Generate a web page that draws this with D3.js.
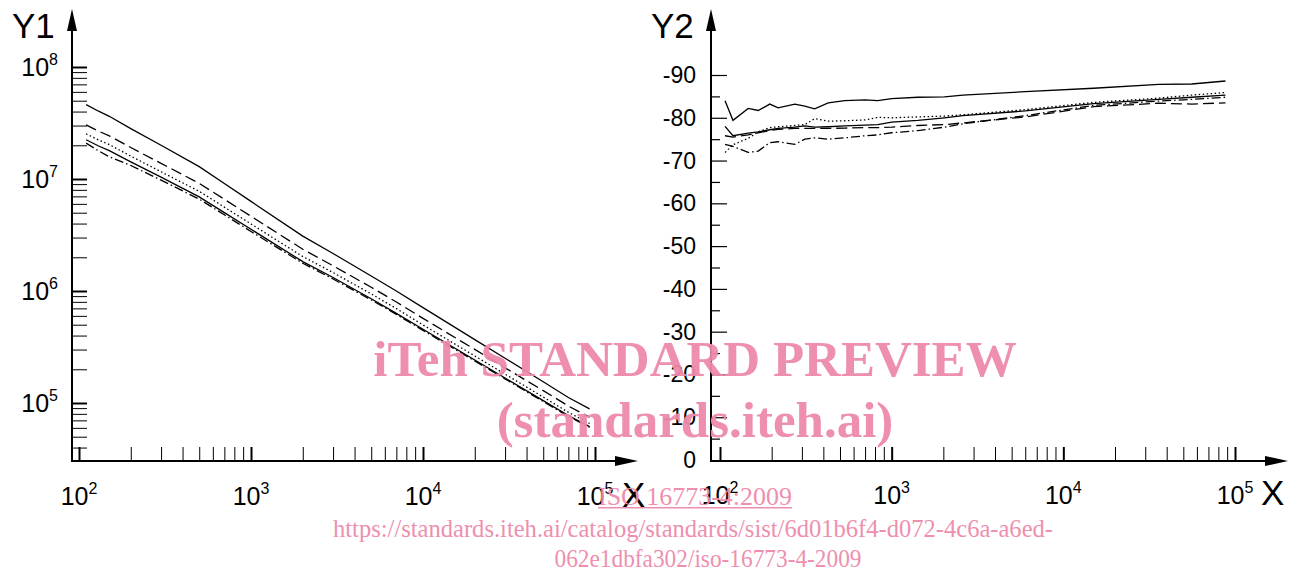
<!DOCTYPE html>
<html>
<head>
<meta charset="utf-8">
<script src="https://cdn.jsdelivr.net/npm/d3@7"></script>
<style>
  body { margin: 0; background: #fff; }
  svg { display: block; }
  text { font-family: "Liberation Sans", Arial, sans-serif; fill: #000; }
  .wm { font-family: "Liberation Serif", "Times New Roman", serif; fill: #ee8aab; }
</style>
</head>
<body>
<svg id="chart" width="1292" height="576"></svg>
<script>
// left panel: Y1 vs X (log-log)
var freqL = [110, 130, 150, 200, 300, 500, 700, 1000, 2000, 3000, 5000, 7000, 10000, 20000, 30000, 50000, 70000, 93000];
var y1Solid   = [4.62e7, 4.03e7, 3.63e7, 2.82e7, 2.00e7, 1.29e7, 9.12e6, 6.31e6, 3.09e6, 2.16e6, 1.36e6, 1.00e6, 7.10e5, 3.68e5, 2.51e5, 1.55e5, 1.12e5, 8.85e4];
var y1Dash    = [3.04e7, 2.67e7, 2.43e7, 1.91e7, 1.38e7, 9.14e6, 6.59e6, 4.65e6, 2.36e6, 1.68e6, 1.08e6, 7.98e5, 5.70e5, 3.01e5, 2.06e5, 1.29e5, 9.40e4, 7.46e4];
var y1Dot     = [2.53e7, 2.23e7, 2.03e7, 1.60e7, 1.16e7, 7.76e6, 5.61e6, 3.97e6, 2.03e6, 1.46e6, 9.42e5, 6.97e5, 4.98e5, 2.63e5, 1.81e5, 1.13e5, 8.26e4, 6.56e4];
var y1Solid2  = [2.24e7, 1.97e7, 1.79e7, 1.42e7, 1.04e7, 6.92e6, 5.01e6, 3.56e6, 1.83e6, 1.32e6, 8.53e5, 6.32e5, 4.55e5, 2.42e5, 1.67e5, 1.05e5, 7.73e4, 6.15e4];
var y1DashDot = [2.09e7, 1.78e7, 1.58e7, 1.32e7, 9.77e6, 6.61e6, 4.79e6, 3.40e6, 1.77e6, 1.28e6, 8.32e5, 6.18e5, 4.45e5, 2.37e5, 1.64e5, 1.03e5, 7.60e4, 6.05e4];

// right panel: Y2 vs X
var freqR = [107, 119, 146, 167, 195, 218, 273, 312, 356, 427, 533, 700, 830, 1000, 1420, 2030, 2600, 6000, 15000, 36000, 56000, 88000];
var y2Solid   = [-84.0, -79.4, -82.2, -81.7, -83.2, -82.3, -83.2, -82.7, -82.1, -83.5, -84.0, -84.2, -84.0, -84.5, -84.8, -84.9, -85.3, -86.1, -86.9, -87.8, -87.9, -88.6];
var y2Solid2  = [-78.0, -75.8, -76.4, -76.7, -77.2, -77.5, -77.8, -78.1, -77.8, -77.9, -78.1, -78.3, -78.4, -79.0, -79.4, -80.0, -80.5, -81.6, -83.3, -84.3, -84.8, -85.3];
var y2Dash    = [-75.8, -75.5, -76.0, -76.5, -77.0, -77.3, -77.5, -77.5, -77.5, -77.5, -77.6, -77.7, -77.7, -77.8, -78.2, -78.4, -78.8, -80.2, -82.6, -83.4, -83.2, -83.5];
var y2Dot     = [-71.9, -73.7, -75.2, -76.7, -77.7, -77.9, -78.2, -78.4, -79.8, -79.2, -79.3, -79.5, -80.1, -80.0, -80.2, -80.4, -80.7, -81.9, -83.6, -84.6, -85.3, -85.9];
var y2DashDot = [-73.8, -73.3, -71.9, -72.2, -74.2, -74.4, -73.8, -75.0, -75.3, -75.0, -75.3, -75.8, -76.0, -76.5, -77.0, -77.8, -78.6, -80.5, -82.9, -83.9, -84.3, -84.8];

var xDecades = [100, 1000, 10000, 100000];
var y1Decades = [1e5, 1e6, 1e7, 1e8];
var y2Labels = [0, -10, -20, -30, -40, -50, -60, -70, -80, -90];

var styles = {
  solid: null,
  dash: "11,5",
  dot: "1.5,2.5",
  dashdot: "9,3,1.5,3"
};

var svg = d3.select("#chart");

var xL = d3.scaleLog().domain([100, 1e5]).range([79, 595]);
var yL = d3.scaleLog().domain([1e5, 1e8]).range([403, 67]);
var xR = d3.scaleLog().domain([100, 1e5]).range([720, 1235]);
var yR = d3.scaleLinear().domain([0, -90]).range([460, 75]);

function logMinors(lo, hi) {
  var out = [];
  for (var e = -1; e < 10; e++) {
    for (var m = 1; m < 10; m++) {
      var v = m * Math.pow(10, e);
      if (v >= lo && v <= hi) out.push(v);
    }
  }
  return out;
}
function isDecade(v) {
  var l = Math.log10(v);
  return Math.abs(l - Math.round(l)) < 1e-9;
}

function drawTicks(g, axis, decadeTest) {
  g.call(axis);
  g.select(".domain").remove();
  g.selectAll(".tick line")
    .attr("stroke", "#000")
    .attr("stroke-width", function (d) { return decadeTest(d) ? 2 : 1; });
}

function arrowUp(x, y) {
  svg.append("path").attr("d", "M" + x + "," + y + " L" + (x - 5) + "," + (y + 22) + " L" + (x + 5) + "," + (y + 22) + " Z").attr("fill", "#000");
}
function arrowRight(x, y) {
  svg.append("path").attr("d", "M" + x + "," + y + " L" + (x - 23) + "," + (y - 5) + " L" + (x - 23) + "," + (y + 5) + " Z").attr("fill", "#000");
}

function powLabel(g, x, y, exp, anchor, size) {
  var t = g.append("text").attr("x", x).attr("y", y).attr("text-anchor", anchor).style("font-size", size + "px");
  t.append("tspan").text("10");
  t.append("tspan").attr("dy", -11).style("font-size", Math.round(size * 0.64) + "px").text(exp);
}

function drawSeries(x, y, xs, ys, dash) {
  var line = d3.line().x(function (d, i) { return x(xs[i]); }).y(function (d) { return y(d); });
  svg.append("path")
    .attr("d", line(ys))
    .attr("fill", "none")
    .attr("stroke", "#000")
    .attr("stroke-width", 1.3)
    .attr("stroke-dasharray", dash);
}

// ---- left panel
var axL = 72, baseY = 461;
drawTicks(svg.append("g").attr("transform", "translate(" + axL + ",0)"),
  d3.axisRight(yL).tickValues(logMinors(4e4, 1e8)).tickSize(15).tickFormat(""), isDecade);
drawTicks(svg.append("g").attr("transform", "translate(0," + baseY + ")"),
  d3.axisTop(xL).tickValues(logMinors(100, 1e5)).tickSize(14).tickFormat(""), isDecade);

svg.append("line").attr("x1", axL).attr("x2", axL).attr("y1", baseY + 1).attr("y2", 20).attr("stroke", "#000").attr("stroke-width", 2);
svg.append("line").attr("x1", axL - 1).attr("x2", 625).attr("y1", baseY).attr("y2", baseY).attr("stroke", "#000").attr("stroke-width", 2);
arrowUp(axL, 9);
arrowRight(638, baseY);

y1Decades.forEach(function (d) {
  powLabel(svg, 58, yL(d) + 9, Math.round(Math.log10(d)), "end", 25);
});
xDecades.forEach(function (d) {
  powLabel(svg, xL(d), 505, Math.round(Math.log10(d)), "middle", 25);
});
svg.append("text").attr("x", 12).attr("y", 38).style("font-size", "35px").text("Y1");
svg.append("text").attr("x", 622).attr("y", 507).style("font-size", "35px").text("X");

drawSeries(xL, yL, freqL, y1Solid, styles.solid);
drawSeries(xL, yL, freqL, y1Dash, styles.dash);
drawSeries(xL, yL, freqL, y1Dot, styles.dot);
drawSeries(xL, yL, freqL, y1Solid2, styles.solid);
drawSeries(xL, yL, freqL, y1DashDot, styles.dashdot);

// ---- right panel
var axR = 711;
var y2Ticks = d3.range(-5, -91, -5);
var gy2 = svg.append("g").attr("transform", "translate(" + axR + ",0)");
gy2.call(d3.axisRight(yR).tickValues(y2Ticks).tickSize(16).tickFormat(""));
gy2.select(".domain").remove();
gy2.selectAll(".tick line").attr("stroke", "#000").attr("stroke-width", 1.2)
  .attr("x2", function (d) { return d % 10 === 0 ? 16 : 9; });
drawTicks(svg.append("g").attr("transform", "translate(0," + baseY + ")"),
  d3.axisTop(xR).tickValues(logMinors(100, 1e5)).tickSize(14).tickFormat(""), isDecade);

svg.append("line").attr("x1", axR).attr("x2", axR).attr("y1", baseY + 1).attr("y2", 20).attr("stroke", "#000").attr("stroke-width", 2);
svg.append("line").attr("x1", axR - 1).attr("x2", 1275).attr("y1", baseY).attr("y2", baseY).attr("stroke", "#000").attr("stroke-width", 2);
arrowUp(axR, 9);
arrowRight(1288, baseY);

y2Labels.forEach(function (d) {
  svg.append("text").attr("x", 696).attr("y", yR(d) + 8).attr("text-anchor", "end")
    .style("font-size", "23px").text(d);
});
xDecades.forEach(function (d) {
  powLabel(svg, xR(d), 504, Math.round(Math.log10(d)), "middle", 25);
});
svg.append("text").attr("x", 651).attr("y", 38).style("font-size", "35px").text("Y2");
svg.append("text").attr("x", 1261).attr("y", 505).style("font-size", "35px").text("X");

drawSeries(xR, yR, freqR, y2Solid, styles.solid);
drawSeries(xR, yR, freqR, y2Solid2, styles.solid);
drawSeries(xR, yR, freqR, y2Dash, styles.dash);
drawSeries(xR, yR, freqR, y2Dot, styles.dot);
drawSeries(xR, yR, freqR, y2DashDot, styles.dashdot);

// ---- watermark
var wm = svg.append("g").attr("opacity", 0.95);
wm.append("text").attr("class", "wm").attr("x", 695).attr("y", 376).attr("text-anchor", "middle")
  .style("font-size", "51px").style("font-weight", "bold").text("iTeh STANDARD PREVIEW");
wm.append("text").attr("class", "wm").attr("x", 695).attr("y", 437).attr("text-anchor", "middle")
  .style("font-size", "51px").style("font-weight", "bold").text("(standards.iteh.ai)");
wm.append("text").attr("class", "wm").attr("x", 695).attr("y", 505).attr("text-anchor", "middle")
  .attr("textLength", 194).attr("lengthAdjust", "spacingAndGlyphs")
  .style("font-size", "25px").text("ISO 16773-4:2009");
wm.append("rect").attr("x", 598).attr("y", 507).attr("width", 194).attr("height", 1.5).attr("fill", "#ee8aab");
wm.append("text").attr("class", "wm").attr("x", 693).attr("y", 537).attr("text-anchor", "middle")
  .attr("textLength", 720).attr("lengthAdjust", "spacingAndGlyphs")
  .style("font-size", "25px").text("https://standards.iteh.ai/catalog/standards/sist/6d01b6f4-d072-4c6a-a6ed-");
wm.append("text").attr("class", "wm").attr("x", 708).attr("y", 567).attr("text-anchor", "middle")
  .attr("textLength", 307).attr("lengthAdjust", "spacingAndGlyphs")
  .style("font-size", "25px").text("062e1dbfa302/iso-16773-4-2009");
</script>
</body>
</html>
